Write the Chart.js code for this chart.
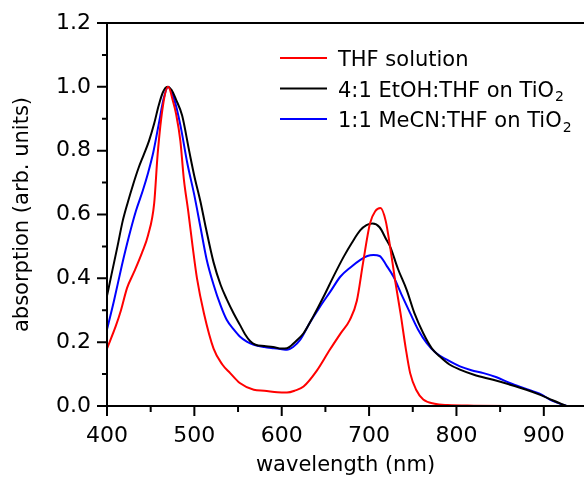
<!DOCTYPE html>
<html>
<head>
<meta charset="utf-8">
<script src="https://cdn.jsdelivr.net/npm/chart.js"></script>
<style>
  html, body { margin: 0; padding: 0; background: #fff; }
  canvas { display: block; }
</style>
</head>
<body>
<canvas id="absChart" width="584" height="478"></canvas>
<script>
// wavelength (nm) and normalised absorption
const thfWl = [400, 410, 416, 423, 431, 440, 447, 454, 458, 464, 470, 476, 479, 484, 488, 493, 498, 503, 511, 522, 532, 541, 552, 568, 580, 595, 606, 615, 625, 640, 655, 668, 678, 686, 693, 701, 707, 713, 719, 724, 730, 736, 742, 747, 754, 762, 775, 790, 820, 860, 900];
const thfAbs = [0.18, 0.25, 0.30, 0.37, 0.42, 0.48, 0.535, 0.635, 0.79, 0.94, 1.0, 0.95, 0.916, 0.83, 0.71, 0.61, 0.50, 0.40, 0.29, 0.18, 0.13, 0.103, 0.072, 0.051, 0.048, 0.043, 0.042, 0.048, 0.061, 0.11, 0.176, 0.23, 0.27, 0.33, 0.447, 0.572, 0.61, 0.62, 0.58, 0.50, 0.39, 0.29, 0.18, 0.103, 0.05, 0.02, 0.007, 0.003, 0.001, 0, 0];

const etohWl = [400, 405, 412, 418, 424, 430, 436, 442, 448, 454, 459, 464, 469, 474, 479, 486, 494, 500, 507, 513, 522, 530, 537, 545, 552, 558, 564, 570, 580, 590, 600, 606, 615, 625, 636, 648, 660, 671, 680, 690, 697, 704, 712, 720, 724, 733, 743, 752, 762, 772, 781, 792, 804, 820, 842, 860, 880, 896, 910, 926];
const etohAbs = [0.345, 0.41, 0.50, 0.58, 0.64, 0.695, 0.745, 0.787, 0.83, 0.885, 0.94, 0.983, 1.0, 0.99, 0.96, 0.91, 0.80, 0.72, 0.64, 0.56, 0.45, 0.38, 0.335, 0.29, 0.255, 0.225, 0.203, 0.192, 0.188, 0.185, 0.18, 0.181, 0.20, 0.228, 0.28, 0.343, 0.41, 0.468, 0.51, 0.551, 0.567, 0.572, 0.56, 0.52, 0.50, 0.43, 0.364, 0.29, 0.228, 0.18, 0.155, 0.13, 0.114, 0.098, 0.082, 0.068, 0.051, 0.035, 0.018, 0];

const mecnWl = [400, 408, 417, 425, 433, 441, 447, 453, 459, 465, 470, 477, 484, 492, 500, 507, 514, 522, 530, 537, 545, 552, 560, 568, 580, 591, 600, 606, 613, 621, 632, 644, 656, 667, 679, 690, 698, 705, 712, 720, 728, 737, 747, 756, 766, 777, 789, 804, 817, 831, 846, 861, 875, 888, 898, 907, 916, 926];
const mecnAbs = [0.24, 0.33, 0.44, 0.53, 0.61, 0.675, 0.73, 0.795, 0.88, 0.965, 1.0, 0.96, 0.88, 0.76, 0.66, 0.56, 0.46, 0.38, 0.315, 0.27, 0.24, 0.218, 0.202, 0.192, 0.185, 0.181, 0.178, 0.176, 0.185, 0.207, 0.26, 0.312, 0.36, 0.405, 0.435, 0.458, 0.47, 0.473, 0.47, 0.44, 0.405, 0.35, 0.291, 0.24, 0.197, 0.165, 0.145, 0.124, 0.112, 0.103, 0.09, 0.072, 0.058, 0.046, 0.035, 0.02, 0.01, 0];

const seriesLabels = ['THF solution', '4:1 EtOH:THF on TiO₂', '1:1 MeCN:THF on TiO₂'];
const seriesColors = ['#ff0000', '#000000', '#0000ff'];

const toPoints = (xs, ys) => xs.map((x, i) => ({ x: x, y: ys[i] }));

Chart.defaults.font.family = '"DejaVu Sans", Verdana, sans-serif';
Chart.defaults.color = '#000';

// axis frame with outward major/minor ticks
const framePlugin = {
    id: 'frame',
    afterDraw(chart) {
        const ctx = chart.ctx;
        const { left, right, top, bottom } = chart.chartArea;
        const xs = chart.scales.x, ys = chart.scales.y;
        ctx.save();
        ctx.strokeStyle = '#000';
        ctx.lineWidth = 2;
        ctx.beginPath();
        ctx.moveTo(left, top); ctx.lineTo(right, top);
        ctx.moveTo(left, top); ctx.lineTo(left, bottom);
        ctx.moveTo(left, bottom); ctx.lineTo(right, bottom);

        const yt = ys.ticks.map(t => t.value);
        yt.forEach((v, i) => {
            const p = ys.getPixelForValue(v);
            ctx.moveTo(left - 10, p); ctx.lineTo(left, p);
            if (i < yt.length - 1) {
                const m = ys.getPixelForValue((v + yt[i + 1]) / 2);
                ctx.moveTo(left - 5, m); ctx.lineTo(left, m);
            }
        });
        const xt = xs.ticks.map(t => t.value);
        xt.forEach((v, i) => {
            const p = xs.getPixelForValue(v);
            ctx.moveTo(p, bottom); ctx.lineTo(p, bottom + 10);
            if (i < xt.length - 1) {
                const m = xs.getPixelForValue((v + xt[i + 1]) / 2);
                ctx.moveTo(m, bottom); ctx.lineTo(m, bottom + 6);
            }
        });
        ctx.stroke();
        ctx.restore();
    }
};

// legend inside the plot, with subscript 2
const legendPlugin = {
    id: 'insideLegend',
    afterDatasetsDraw(chart) {
        const ctx = chart.ctx;
        const x0 = 280, x1 = 327, tx = 338;
        const rowY = [58, 88.5, 119];
        ctx.save();
        chart.data.datasets.forEach((ds, i) => {
            const y = rowY[i];
            ctx.strokeStyle = ds.borderColor;
            ctx.lineWidth = 2;
            ctx.beginPath();
            ctx.moveTo(x0, y); ctx.lineTo(x1, y);
            ctx.stroke();

            const parts = ds.label.split('₂');
            ctx.fillStyle = '#000';
            ctx.textBaseline = 'alphabetic';
            ctx.font = '21px "DejaVu Sans"';
            ctx.fillText(parts[0], tx, y + 8);
            if (parts.length > 1) {
                const w = ctx.measureText(parts[0]).width;
                ctx.font = '14px "DejaVu Sans"';
                ctx.fillText('2', tx + w + 1, y + 12.5);
            }
        });
        ctx.restore();
    }
};

const ctx = document.getElementById('absChart').getContext('2d');
const absChart = new Chart(ctx, {
    type: 'line',
    data: {
        datasets: [
            { label: seriesLabels[0], data: toPoints(thfWl, thfAbs), borderColor: seriesColors[0] },
            { label: seriesLabels[1], data: toPoints(etohWl, etohAbs), borderColor: seriesColors[1] },
            { label: seriesLabels[2], data: toPoints(mecnWl, mecnAbs), borderColor: seriesColors[2] }
        ]
    },
    options: {
        responsive: false,
        animation: false,
        devicePixelRatio: 1,
        layout: { padding: { top: 23, right: 0, bottom: 0, left: 0 } },
        elements: {
            point: { radius: 0 },
            line: { borderWidth: 2, cubicInterpolationMode: 'monotone', fill: false }
        },
        plugins: {
            legend: { display: false },
            tooltip: { enabled: false }
        },
        scales: {
            x: {
                type: 'linear',
                min: 400,
                max: 946,
                border: { display: false },
                grid: { display: false, drawTicks: true, tickLength: 10 },
                ticks: { stepSize: 100, includeBounds: false, padding: 7, font: { size: 22 }, color: '#000', maxRotation: 0 },
                title: { display: true, text: 'wavelength (nm)', font: { size: 21 }, color: '#000', padding: 0 },
                afterFit(scale) { scale.height = 72; }
            },
            y: {
                min: 0,
                max: 1.2,
                border: { display: false },
                grid: { display: false, drawTicks: true, tickLength: 10 },
                ticks: { stepSize: 0.2, padding: 6, font: { size: 22 }, color: '#000', callback: v => v.toFixed(1) },
                title: { display: true, text: 'absorption (arb. units)', font: { size: 21 }, color: '#000', padding: { top: 10, bottom: 0 } },
                afterFit(scale) { scale.width = 107; }
            }
        }
    },
    plugins: [framePlugin, legendPlugin]
});
</script>
</body>
</html>
